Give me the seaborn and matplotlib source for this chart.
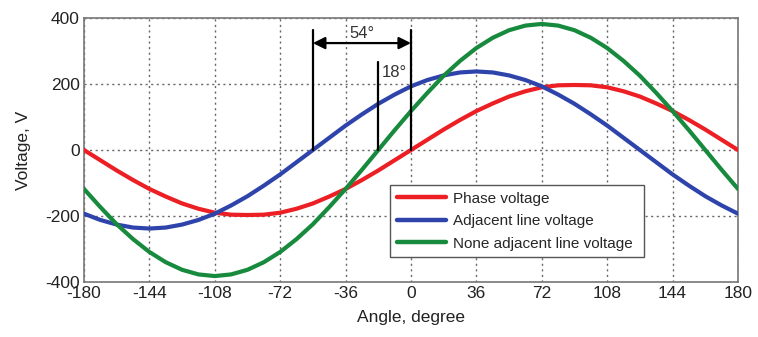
import numpy as np
import pandas as pd
import matplotlib
matplotlib.use("Agg")
import matplotlib.pyplot as plt
import seaborn as sns

angle = [-180, -171, -162, -153, -144, -135, -126, -117, -108, -99, -90,
         -81, -72, -63, -54, -45, -36, -27, -18, -9, 0,
         9, 18, 27, 36, 45, 54, 63, 72, 81, 90,
         99, 108, 117, 126, 135, 144, 153, 162, 171, 180]

phase_voltage = [0, -31, -62, -91, -118, -141, -162, -178, -190, -196, -197,
                 -196, -190, -178, -162, -141, -118, -91, -62, -31, 0,
                 31, 62, 91, 118, 141, 162, 178, 190, 196, 197,
                 196, 190, 178, 162, 141, 118, 91, 62, 31, 0]

adjacent_line_voltage = [-193, -212, -226, -235, -238, -235, -226, -212, -193, -168, -140,
                         -108, -74, -37, 0, 37, 74, 108, 140, 168, 193,
                         212, 226, 235, 238, 235, 226, 212, 193, 168, 140,
                         108, 74, 37, 0, -37, -74, -108, -140, -168, -193]

none_adjacent_line_voltage = [-118, -173, -225, -270, -309, -340, -363, -377, -382, -377, -363,
                              -340, -309, -270, -225, -173, -118, -60, 0, 60, 118,
                              173, 225, 270, 309, 340, 363, 377, 382, 377, 363,
                              340, 309, 270, 225, 173, 118, 60, 0, -60, -118]

series_names = ["Phase voltage", "Adjacent line voltage", "None adjacent line voltage"]
series_colors = ["#ec1f24", "#2f44ab", "#178a3d"]

x_ticks = [-180, -144, -108, -72, -36, 0, 36, 72, 108, 144, 180]
y_ticks = [-400, -200, 0, 200, 400]

df = pd.DataFrame({
    "Angle": angle * 3,
    "Voltage": phase_voltage + adjacent_line_voltage + none_adjacent_line_voltage,
    "Series": [series_names[0]] * len(angle) + [series_names[1]] * len(angle) + [series_names[2]] * len(angle),
})

sns.set_style("white")
plt.rcParams["font.family"] = ["Liberation Sans", "DejaVu Sans"]

fig = plt.figure(figsize=(7.58, 3.37), dpi=100)
ax = fig.add_axes([0.1108, 0.1632, 0.8628, 0.7834])

sns.lineplot(data=df, x="Angle", y="Voltage", hue="Series", hue_order=series_names,
             palette=series_colors, linewidth=3.0, ax=ax, legend=True, zorder=3)

ax.set_xlim(-180, 180)
ax.set_ylim(-400, 400)
ax.set_xticks(x_ticks)
ax.set_yticks(y_ticks)
ax.set_xticklabels([str(t) for t in x_ticks], fontsize=12.5, color="#222222")
ax.set_yticklabels([str(t) for t in y_ticks], fontsize=12.5, color="#222222")
ax.tick_params(direction="in", length=4, color="#555555", pad=3)
ax.set_xlabel("Angle, degree", fontsize=12.5, labelpad=6, color="#222222")
ax.set_ylabel("Voltage, V", fontsize=12.5, labelpad=10, color="#222222")
ax.grid(True, linestyle=(0, (1.5, 2.5)), color="#666666", linewidth=1.0, zorder=0)
for s in ax.spines.values():
    s.set_color("#777777")
    s.set_linewidth(1.2)

# annotation lines
ax.plot([-54, -54], [0, 364], color="black", linewidth=1.6, zorder=4)
ax.plot([-18, -18], [0, 267], color="black", linewidth=1.6, zorder=4)
ax.plot([0, 0], [0, 364], color="black", linewidth=1.6, zorder=4)
ax.annotate("", xy=(-54, 324), xytext=(0, 324),
            arrowprops=dict(arrowstyle="<|-|>", color="black", lw=1.6,
                            mutation_scale=18, shrinkA=0, shrinkB=0), zorder=5)
ax.text(-27, 354, "54°", ha="center", va="center", fontsize=12, color="#333333")
ax.text(-9, 234, "18°", ha="center", va="center", fontsize=12, color="#333333")

leg = ax.legend(loc="lower left", bbox_to_anchor=(0.456, 0.064, 0.412, 0.303),
                mode="expand", fontsize=11, frameon=True, fancybox=False,
                edgecolor="#555555", framealpha=1, handlelength=3.2, borderpad=0.45,
                labelspacing=0.55, handletextpad=0.5)
leg.get_frame().set_linewidth(1.0)
for h in leg.get_lines():
    h.set_linewidth(3.2)

fig.savefig("out.png", dpi=100)
